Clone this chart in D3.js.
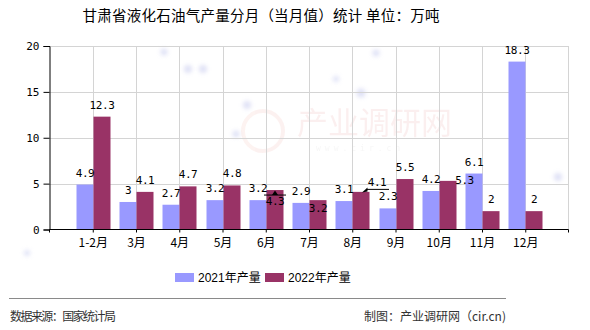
<!DOCTYPE html>
<html>
<head>
<meta charset="utf-8">
<script src="https://cdn.jsdelivr.net/npm/d3@7"></script>
<style>
  body { margin: 0; background: #fff; }
  svg { display: block; }
</style>
</head>
<body>
<svg id="chart" width="590" height="330"></svg>
<script>
// ---- data ----
const months = ["1-2月", "3月", "4月", "5月", "6月", "7月", "8月", "9月", "10月", "11月", "12月"];
const output2021 = [4.9, 3, 2.7, 3.2, 3.2, 2.9, 3.1, 2.3, 4.2, 6.1, 18.3];
const output2022 = [12.3, 4.1, 4.7, 4.8, 4.3, 3.2, 4.1, 5.5, 5.3, 2, 2];
const seriesNames = ["2021年产量", "2022年产量"];
const yTicks = [0, 5, 10, 15, 20];
const titleText = "甘肃省液化石油气产量分月（当月值）统计 单位：万吨";
const sourceText = "数据来源：国家统计局";
const creditText = "制图：产业调研网（cir.cn)";

// ---- styling / layout ----
const colors = ["#9999ff", "#993366"];
const plot = { left: 49.5, right: 568.5, top: 46, bottom: 229.5 };
const barW = 17;
const monoFont = "'DejaVu Sans Mono', 'Liberation Mono', monospace";
const cjkFont = "'Noto Sans CJK SC', 'Liberation Sans', sans-serif";

// value labels that were nudged to avoid overlaps: key = series:index
const labelShift = {
  "1:4": { dx: 0, dy: 23 },
  "1:5": { dx: 0, dy: 20 },
  "1:6": { dx: 16, dy: 2 },
  "1:8": { dx: 16.5, dy: 11 }
};

const svg = d3.select("#chart");

const x = d3.scalePoint().domain(months).range([plot.left, plot.right]).padding(1);
const y = d3.scaleLinear().domain([0, 20]).range([plot.bottom, plot.top]);

// soft decorative background bubbles
const defs = svg.append("defs");
defs.append("filter").attr("id", "soft").attr("x", "-100%").attr("y", "-100%")
  .attr("width", "300%").attr("height", "300%")
  .append("feGaussianBlur").attr("stdDeviation", 2.2);
const bubbles = [
  [164, 52, 3.5], [188, 69, 4], [203, 69, 4], [247, 105, 4], [236, 134, 3.5],
  [336, 79, 3], [361, 93, 4.5], [376, 53, 3.5], [558, 177, 4], [27, 253, 3]
];
svg.append("g").selectAll("circle").data(bubbles).join("circle")
  .attr("cx", d => d[0]).attr("cy", d => d[1]).attr("r", d => d[2])
  .attr("fill", "#c9cdf0").attr("opacity", 0.6).attr("filter", "url(#soft)");

// watermark
const wm = svg.append("g").attr("opacity", 0.08);
wm.append("circle").attr("cx", 263).attr("cy", 131).attr("r", 20)
  .attr("fill", "none").attr("stroke", "#e06050").attr("stroke-width", 4);
wm.append("text").attr("x", 297).attr("y", 134).attr("font-size", 31)
  .attr("font-family", cjkFont).attr("fill", "#d04040").text("产业调研网");
wm.append("text").attr("x", 316).attr("y", 151).attr("font-size", 8)
  .attr("font-family", monoFont).attr("letter-spacing", 4).attr("fill", "#909090").text("www.cir.cn");

// grid
const grid = svg.append("g").attr("stroke", "#d4d4d4").attr("stroke-width", 1);
grid.selectAll("line.h").data(yTicks.filter(t => t > 0)).join("line")
  .attr("x1", plot.left).attr("x2", plot.right)
  .attr("y1", d => Math.round(y(d)) + 0.5).attr("y2", d => Math.round(y(d)) + 0.5);
grid.selectAll("line.v").data(months).join("line")
  .attr("x1", d => Math.round(x(d)) + 0.5).attr("x2", d => Math.round(x(d)) + 0.5)
  .attr("y1", plot.top).attr("y2", plot.bottom);
grid.append("line").attr("x1", plot.right).attr("x2", plot.right)
  .attr("y1", plot.top).attr("y2", plot.bottom);

// bars
const series = [output2021, output2022];
const barsG = svg.append("g");
series.forEach((vals, s) => {
  barsG.append("g").attr("fill", colors[s]).selectAll("rect").data(vals).join("rect")
    .attr("x", (d, i) => s === 0 ? Math.round(x(months[i])) + 0.5 - barW : Math.round(x(months[i])) + 0.5)
    .attr("width", barW)
    .attr("y", d => y(d))
    .attr("height", d => plot.bottom - y(d));
});

// axes
const yAxis = svg.append("g").attr("transform", `translate(${plot.left},0)`)
  .call(d3.axisLeft(y).tickValues(yTicks).tickSize(6).tickPadding(4).tickFormat(d3.format("d")));
const xAxis = svg.append("g").attr("transform", `translate(0,${plot.bottom})`)
  .call(d3.axisBottom(x).tickSize(3).tickPadding(6));
[yAxis, xAxis].forEach(g => {
  g.select(".domain").attr("stroke", "#000");
  g.selectAll(".tick line").attr("stroke", "#000");
  g.selectAll("text").attr("fill", "#000");
});
yAxis.selectAll("text").attr("font-family", monoFont).attr("font-size", 11);
xAxis.selectAll("text").attr("font-family", cjkFont).attr("font-size", 12);
xAxis.select(".domain").attr("d", `M${plot.left},3V0H${plot.right}V3`);

// value labels
const labels = svg.append("g").attr("font-family", monoFont).attr("font-size", 11)
  .attr("fill", "#000").attr("text-anchor", "middle");
series.forEach((vals, s) => {
  vals.forEach((v, i) => {
    const cx = Math.round(x(months[i])) + 0.5 + (s === 0 ? -barW / 2 : barW / 2);
    const sh = labelShift[`${s}:${i}`] || { dx: 0, dy: 0 };
    labels.append("text")
      .attr("x", cx + sh.dx)
      .attr("y", y(v) - 8 + sh.dy)
      .attr("letter-spacing", -0.4)
      .text(v);
  });
});

// leader marks for the displaced labels
const lead = svg.append("g").attr("fill", "#000").attr("stroke", "#000");
{
  const cx = Math.round(x(months[4])) + 0.5 + barW / 2, top = y(output2022[4]);
  lead.append("line").attr("x1", cx - 11).attr("x2", cx + 11)
    .attr("y1", top + 5).attr("y2", top + 5).attr("stroke-width", 1);
  lead.append("path").attr("stroke", "none")
    .attr("d", `M${cx},${top + 0.5}L${cx + 3},${top + 5}L${cx - 3},${top + 5}Z`);
}
{
  const cx = Math.round(x(months[6])) + 0.5 + barW / 2, top = y(output2022[6]);
  lead.append("line").attr("x1", cx + 6).attr("x2", cx + 28)
    .attr("y1", top - 2.5).attr("y2", top - 2.5).attr("stroke-width", 1);
  lead.append("path").attr("stroke", "none")
    .attr("d", `M${cx + 1},${top + 0.5}L${cx + 6.5},${top - 4.5}L${cx + 6.5},${top - 0.5}Z`);
}

// title
svg.append("text").attr("x", 261).attr("y", 21).attr("text-anchor", "middle")
  .attr("font-family", cjkFont).attr("font-size", 14.5).attr("fill", "#000")
  .attr("textLength", 357).text(titleText);

// legend
const legend = svg.append("g").attr("font-family", "'Liberation Sans', " + cjkFont)
  .attr("font-size", 12).attr("fill", "#000");
const legendX = [175, 265];
seriesNames.forEach((name, i) => {
  legend.append("rect").attr("x", legendX[i]).attr("y", 273).attr("width", 19).attr("height", 9)
    .attr("fill", colors[i]);
  legend.append("text").attr("x", legendX[i] + 23).attr("y", 281.5).text(name);
});

// footer
svg.append("line").attr("x1", 9).attr("x2", 506).attr("y1", 298.5).attr("y2", 298.5)
  .attr("stroke", "#8a8a8a").attr("stroke-width", 1.2);
svg.append("text").attr("x", 10).attr("y", 321).attr("font-family", cjkFont)
  .attr("font-size", 12).attr("fill", "#333").attr("textLength", 106).text(sourceText);
svg.append("text").attr("x", 506).attr("y", 321).attr("text-anchor", "end").attr("font-family", cjkFont)
  .attr("font-size", 12).attr("fill", "#333").text(creditText);
</script>
</body>
</html>
